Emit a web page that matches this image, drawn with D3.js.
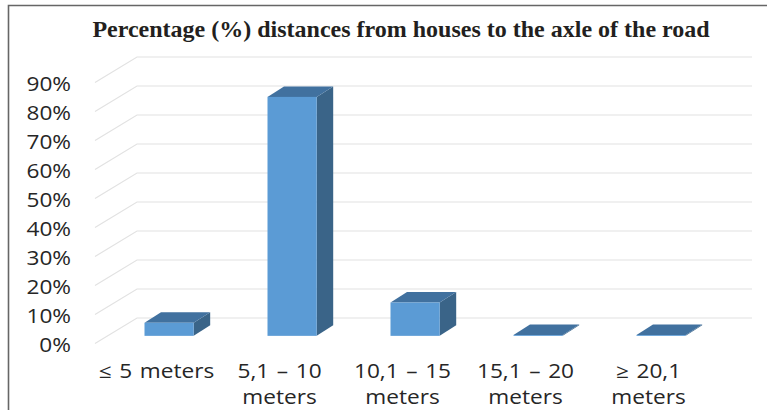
<!DOCTYPE html>
<head>
    <meta charset="utf-8">
    <title>Distances from houses to the axle of the road</title>
    <style>
        html, body { margin: 0; padding: 0; background: #fff; }
        svg { display: block; }
        .lbl text { font-family: "Open Sans", sans-serif; font-size: 19.5px; fill: #262626; word-spacing: 1.5px; }
    </style>
</head>
<body>

<svg width="767" height="410"></svg>

<script src="https://d3js.org/d3.v7.min.js"></script>

<script>

var chartTitle = 'Percentage (%) distances from houses to the axle of the road';
var categories = ['≤ 5 meters', '5,1 – 10 meters', '10,1 – 15 meters', '15,1 – 20 meters', '≥ 20,1 meters'];
var categoryLines = [['≤ 5 meters'], ['5,1 – 10', 'meters'], ['10,1 – 15', 'meters'], ['15,1 – 20', 'meters'], ['≥ 20,1', 'meters']];
var values = [4.5, 82.4, 11.5, 0.3, 0.3];
var ticks = [0, 10, 20, 30, 40, 50, 60, 70, 80, 90];

var svg = d3.select('svg');

// depth of the 3d floor, and how far back the bars stand on it
var wallDx = 42, wallDy = -25.5;
var barDepthAt = 0.3, barDx = 16.5, barDy = -10.5;
var textStretch = 1.16;

// front plane scales, the back wall is the same thing moved by wallDx/wallDy
var x = d3.scaleBand().domain(categories).range([95, 710]).paddingInner(0.6).paddingOuter(0.3);
var y = d3.scaleLinear().domain([0, 90]).range([343.5, 82.5]);

// page frame (only top and left survive in the scan)
svg.append('path')
    .attr('d', 'M8.5,410V5.5H767')
    .attr('fill', 'none')
    .attr('stroke', '#666')
    .attr('stroke-width', 1.6);

svg.append('text')
    .attr('x', 401)
    .attr('y', 37)
    .attr('text-anchor', 'middle')
    .attr('font-family', '"Liberation Serif", serif')
    .attr('font-weight', 'bold')
    .attr('font-size', 24)
    .attr('fill', '#231f20')
    .text(chartTitle);

// gridlines: side wall then back wall
var grid = svg.append('g');
grid.selectAll('path')
    .data(ticks)
    .enter().append('path')
        .attr('d', d => `M${x.range()[0]},${y(d)}l${wallDx},${wallDy}H${x.range()[1] + wallDx}`)
        .attr('fill', 'none')
        .attr('stroke', '#e2e2e2')
        .attr('stroke-width', 1.2);

// bars
var bar = svg.selectAll('.bar')
    .data(categories.map((c, i) => ({ cat: c, value: values[i] })))
    .enter().append('g')
        .attr('class', 'bar')
        .attr('transform', `translate(${wallDx * barDepthAt},${wallDy * barDepthAt})`);

var bw = x.bandwidth();

bar.append('path') // side
    .attr('d', d => `M${x(d.cat) + bw},${y(0)}V${y(d.value)}l${barDx},${barDy}V${y(0) + barDy}Z`)
    .attr('fill', '#3a6488');

bar.append('path') // top
    .attr('d', d => `M${x(d.cat)},${y(d.value)}h${bw}l${barDx},${barDy}h${-bw}Z`)
    .attr('fill', '#41719f');

bar.append('rect') // front
    .attr('x', d => x(d.cat))
    .attr('y', d => y(d.value))
    .attr('width', bw)
    .attr('height', d => y(0) - y(d.value))
    .attr('fill', '#5b9bd5');

// axes
var yAxis = svg.append('g')
    .attr('class', 'lbl')
    .attr('transform', 'translate(71,1.5)')
    .call(d3.axisLeft(y).tickValues(ticks).tickFormat(d => d + '%').tickSize(0).tickPadding(0));

var xAxis = svg.append('g')
    .attr('class', 'lbl')
    .attr('transform', 'translate(0,362)')
    .call(d3.axisBottom(x).tickSize(0).tickPadding(0).tickFormat(''));

xAxis.selectAll('.tick text')
    .attr('y', 0)
    .attr('dy', null)
    .selectAll('tspan')
    .data((d, i) => categoryLines[i])
    .enter().append('tspan')
        .attr('x', 0)
        .attr('y', (d, i) => 15.5 + i * 26.5)
        .text(d => d);

yAxis.selectAll('.domain').remove();
xAxis.selectAll('.domain').remove();

svg.selectAll('.lbl text').attr('transform', `scale(${textStretch},1)`);

</script>

</body>
